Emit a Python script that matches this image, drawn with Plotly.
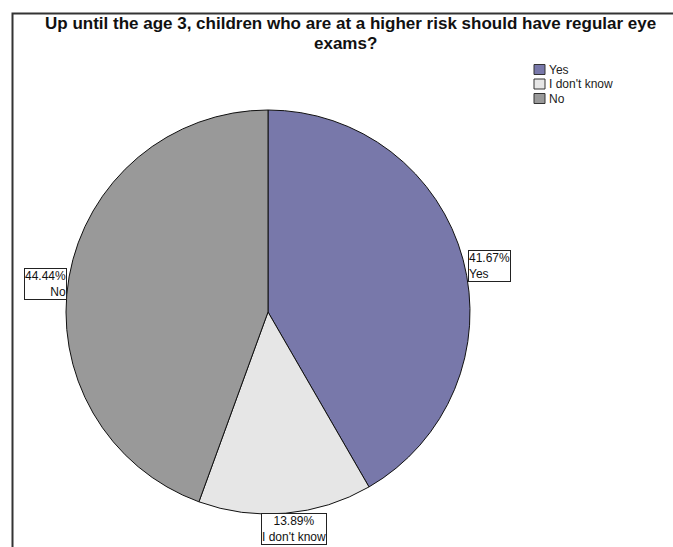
import math
import plotly.graph_objects as go

# Survey responses (counts)
categories = ["Yes", "I don't know", "No"]
counts = [15, 5, 16]
colors = ["#7878AA", "#E6E6E6", "#999999"]

title_line1 = "Up until the age 3, children who are at a higher risk should have regular eye"
title_line2 = "exams?"

W, H = 673, 547
FONT = "Liberation Sans, Arial, sans-serif"


def px(x):
    return x / W


def py(y):
    return 1 - y / H


# pie geometry in pixels
cx, cy, r = 268, 312, 202

fig = go.Figure()
fig.add_trace(go.Pie(
    labels=categories,
    values=counts,
    marker=dict(colors=colors, line=dict(color="#111111", width=1)),
    sort=False,
    direction="clockwise",
    rotation=0,
    textinfo="none",
    hoverinfo="label+percent",
    showlegend=False,
    domain=dict(x=[px(cx - r), px(cx + r)], y=[py(cy + r), py(cy - r)]),
))

annotations = []
shapes = []

# boxed percentage labels, placed at each slice's mid-angle on the rim
total = sum(counts)
cum = 0
placement = {
    "Yes": dict(dx=5, dy=-10, xanchor="left", yanchor="top", align="left"),
    "I don't know": dict(dx=8, dy=0, xanchor="center", yanchor="top", align="center"),
    "No": dict(dx=-2, dy=-9, xanchor="right", yanchor="top", align="right"),
}
for cat, c in zip(categories, counts):
    frac = c / total
    mid = (cum + frac / 2) * 2 * math.pi
    cum += frac
    x = cx + r * math.sin(mid)
    y = cy - r * math.cos(mid)
    p = placement[cat]
    annotations.append(dict(
        x=px(x + p["dx"]), y=py(y + p["dy"]), xref="paper", yref="paper",
        xanchor=p["xanchor"], yanchor=p["yanchor"], align=p["align"],
        text=f"{frac * 100:.2f}%<br>{cat}", showarrow=False,
        font=dict(family=FONT, size=12, color="#111111"),
        bgcolor="white", bordercolor="#222222", borderwidth=1, borderpad=0,
    ))

# title, two centred lines
title_font = dict(family=FONT, size=17, color="#111111")
annotations.append(dict(
    x=px(350), y=py(34.5), xref="paper", yref="paper", xanchor="center", yanchor="bottom",
    text=f"<b>{title_line1}</b>", showarrow=False, font=title_font, borderpad=0,
))
annotations.append(dict(
    x=px(346), y=py(54.5), xref="paper", yref="paper", xanchor="center", yanchor="bottom",
    text=f"<b>{title_line2}</b>", showarrow=False, font=title_font, borderpad=0,
))

# legend
for i, (cat, col) in enumerate(zip(categories, colors)):
    top = 64.5 + i * 14.5
    shapes.append(dict(
        type="rect", xref="paper", yref="paper",
        x0=px(534), x1=px(545), y0=py(top + 10), y1=py(top),
        fillcolor=col, line=dict(color="#333333", width=1),
    ))
    annotations.append(dict(
        x=px(547), y=py(top + 5.5), xref="paper", yref="paper",
        xanchor="left", yanchor="middle", text=cat, showarrow=False,
        font=dict(family=FONT, size=12, color="#222222"),
    ))

# chart frame (left and top edges)
shapes.append(dict(
    type="path", xref="paper", yref="paper",
    path=f"M {px(12.5)} {py(H + 5)} L {px(12.5)} {py(13.5)} L {px(W + 5)} {py(13.5)}",
    line=dict(color="#333333", width=2),
))

fig.update_layout(
    width=W, height=H,
    margin=dict(l=0, r=0, t=0, b=0),
    paper_bgcolor="white", plot_bgcolor="white",
    annotations=annotations, shapes=shapes,
)

fig.write_html("out.html")
